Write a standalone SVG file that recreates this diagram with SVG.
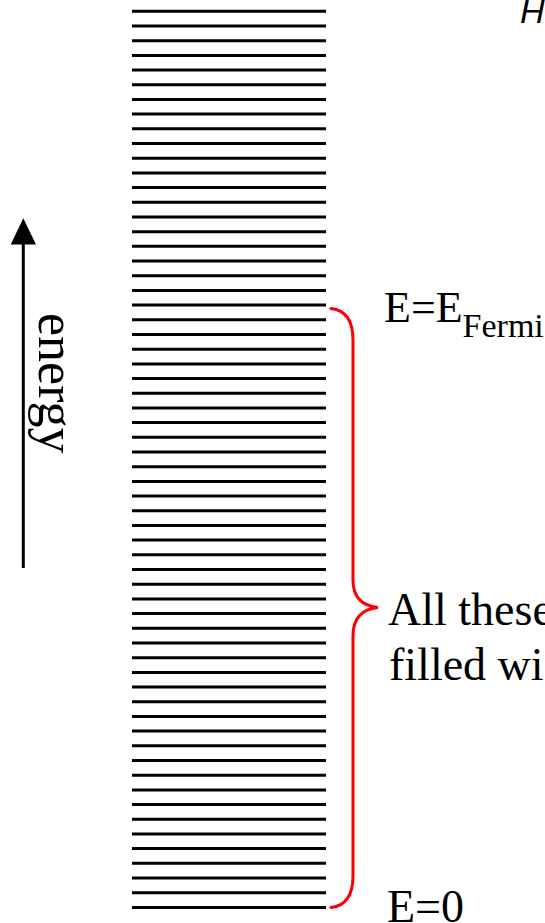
<svg xmlns="http://www.w3.org/2000/svg" width="545" height="923" viewBox="0 0 545 923">
  <style>
    .lvl { stroke: #000; stroke-width: 3; }
    .serif { font-family: "Liberation Serif", "Times New Roman", serif; fill: #000; }
    .brace { fill: none; stroke: #ff0000; stroke-width: 3; stroke-linecap: round; }
  </style>
  <rect width="545" height="923" fill="#fff"/>
  <g id="levels">
    <line class="lvl" x1="132" y1="11.3" x2="326" y2="11.3"/>
    <line class="lvl" x1="132" y1="26.0" x2="326" y2="26.0"/>
    <line class="lvl" x1="132" y1="40.7" x2="326" y2="40.7"/>
    <line class="lvl" x1="132" y1="55.4" x2="326" y2="55.4"/>
    <line class="lvl" x1="132" y1="70.1" x2="326" y2="70.1"/>
    <line class="lvl" x1="132" y1="84.8" x2="326" y2="84.8"/>
    <line class="lvl" x1="132" y1="99.4" x2="326" y2="99.4"/>
    <line class="lvl" x1="132" y1="114.1" x2="326" y2="114.1"/>
    <line class="lvl" x1="132" y1="128.8" x2="326" y2="128.8"/>
    <line class="lvl" x1="132" y1="143.5" x2="326" y2="143.5"/>
    <line class="lvl" x1="132" y1="158.2" x2="326" y2="158.2"/>
    <line class="lvl" x1="132" y1="172.9" x2="326" y2="172.9"/>
    <line class="lvl" x1="132" y1="187.6" x2="326" y2="187.6"/>
    <line class="lvl" x1="132" y1="202.3" x2="326" y2="202.3"/>
    <line class="lvl" x1="132" y1="217.0" x2="326" y2="217.0"/>
    <line class="lvl" x1="132" y1="231.7" x2="326" y2="231.7"/>
    <line class="lvl" x1="132" y1="246.3" x2="326" y2="246.3"/>
    <line class="lvl" x1="132" y1="261.0" x2="326" y2="261.0"/>
    <line class="lvl" x1="132" y1="275.7" x2="326" y2="275.7"/>
    <line class="lvl" x1="132" y1="290.4" x2="326" y2="290.4"/>
    <line class="lvl" x1="132" y1="305.1" x2="326" y2="305.1"/>
    <line class="lvl" x1="132" y1="319.8" x2="326" y2="319.8"/>
    <line class="lvl" x1="132" y1="334.5" x2="326" y2="334.5"/>
    <line class="lvl" x1="132" y1="349.2" x2="326" y2="349.2"/>
    <line class="lvl" x1="132" y1="363.9" x2="326" y2="363.9"/>
    <line class="lvl" x1="132" y1="378.6" x2="326" y2="378.6"/>
    <line class="lvl" x1="132" y1="393.2" x2="326" y2="393.2"/>
    <line class="lvl" x1="132" y1="407.9" x2="326" y2="407.9"/>
    <line class="lvl" x1="132" y1="422.6" x2="326" y2="422.6"/>
    <line class="lvl" x1="132" y1="437.3" x2="326" y2="437.3"/>
    <line class="lvl" x1="132" y1="452.0" x2="326" y2="452.0"/>
    <line class="lvl" x1="132" y1="466.7" x2="326" y2="466.7"/>
    <line class="lvl" x1="132" y1="481.4" x2="326" y2="481.4"/>
    <line class="lvl" x1="132" y1="496.1" x2="326" y2="496.1"/>
    <line class="lvl" x1="132" y1="510.8" x2="326" y2="510.8"/>
    <line class="lvl" x1="132" y1="525.5" x2="326" y2="525.5"/>
    <line class="lvl" x1="132" y1="540.1" x2="326" y2="540.1"/>
    <line class="lvl" x1="132" y1="554.8" x2="326" y2="554.8"/>
    <line class="lvl" x1="132" y1="569.5" x2="326" y2="569.5"/>
    <line class="lvl" x1="132" y1="584.2" x2="326" y2="584.2"/>
    <line class="lvl" x1="132" y1="598.9" x2="326" y2="598.9"/>
    <line class="lvl" x1="132" y1="613.6" x2="326" y2="613.6"/>
    <line class="lvl" x1="132" y1="628.3" x2="326" y2="628.3"/>
    <line class="lvl" x1="132" y1="643.0" x2="326" y2="643.0"/>
    <line class="lvl" x1="132" y1="657.7" x2="326" y2="657.7"/>
    <line class="lvl" x1="132" y1="672.4" x2="326" y2="672.4"/>
    <line class="lvl" x1="132" y1="687.0" x2="326" y2="687.0"/>
    <line class="lvl" x1="132" y1="701.7" x2="326" y2="701.7"/>
    <line class="lvl" x1="132" y1="716.4" x2="326" y2="716.4"/>
    <line class="lvl" x1="132" y1="731.1" x2="326" y2="731.1"/>
    <line class="lvl" x1="132" y1="745.8" x2="326" y2="745.8"/>
    <line class="lvl" x1="132" y1="760.5" x2="326" y2="760.5"/>
    <line class="lvl" x1="132" y1="775.2" x2="326" y2="775.2"/>
    <line class="lvl" x1="132" y1="789.9" x2="326" y2="789.9"/>
    <line class="lvl" x1="132" y1="804.6" x2="326" y2="804.6"/>
    <line class="lvl" x1="132" y1="819.3" x2="326" y2="819.3"/>
    <line class="lvl" x1="132" y1="833.9" x2="326" y2="833.9"/>
    <line class="lvl" x1="132" y1="848.6" x2="326" y2="848.6"/>
    <line class="lvl" x1="132" y1="863.3" x2="326" y2="863.3"/>
    <line class="lvl" x1="132" y1="878.0" x2="326" y2="878.0"/>
    <line class="lvl" x1="132" y1="892.7" x2="326" y2="892.7"/>
    <line class="lvl" x1="132" y1="907.4" x2="326" y2="907.4"/>
  </g>
  <g id="energy-axis">
    <line x1="23.3" y1="243" x2="23.3" y2="568" stroke="#000" stroke-width="3"/>
    <polygon points="23.3,218.3 10.7,244.5 36,244.5" fill="#000"/>
    <text class="serif" font-size="52" transform="translate(39,313) rotate(90)">energy</text>
  </g>
  <g id="brace">
    <path class="brace" d="M331,308.5 Q353,311 353,340 L353,580 Q353,605 378,607.5 Q353,610 353,636 L353,876 Q353,905 331,907.5"/>
  </g>
  <g id="labels">
    <text class="serif" font-size="44" x="384" y="322">E=E<tspan font-size="34" dy="15">Fermi</tspan></text>
    <text class="serif" font-size="46" x="388" y="625">All these</text>
    <text class="serif" font-size="46" x="389" y="680">filled wi</text>
    <text class="serif" font-size="46" x="387" y="922">E=0</text>
    <text font-family="Liberation Sans, Arial, sans-serif" font-style="italic" font-size="34" x="520" y="23">H</text>
  </g>
</svg>
